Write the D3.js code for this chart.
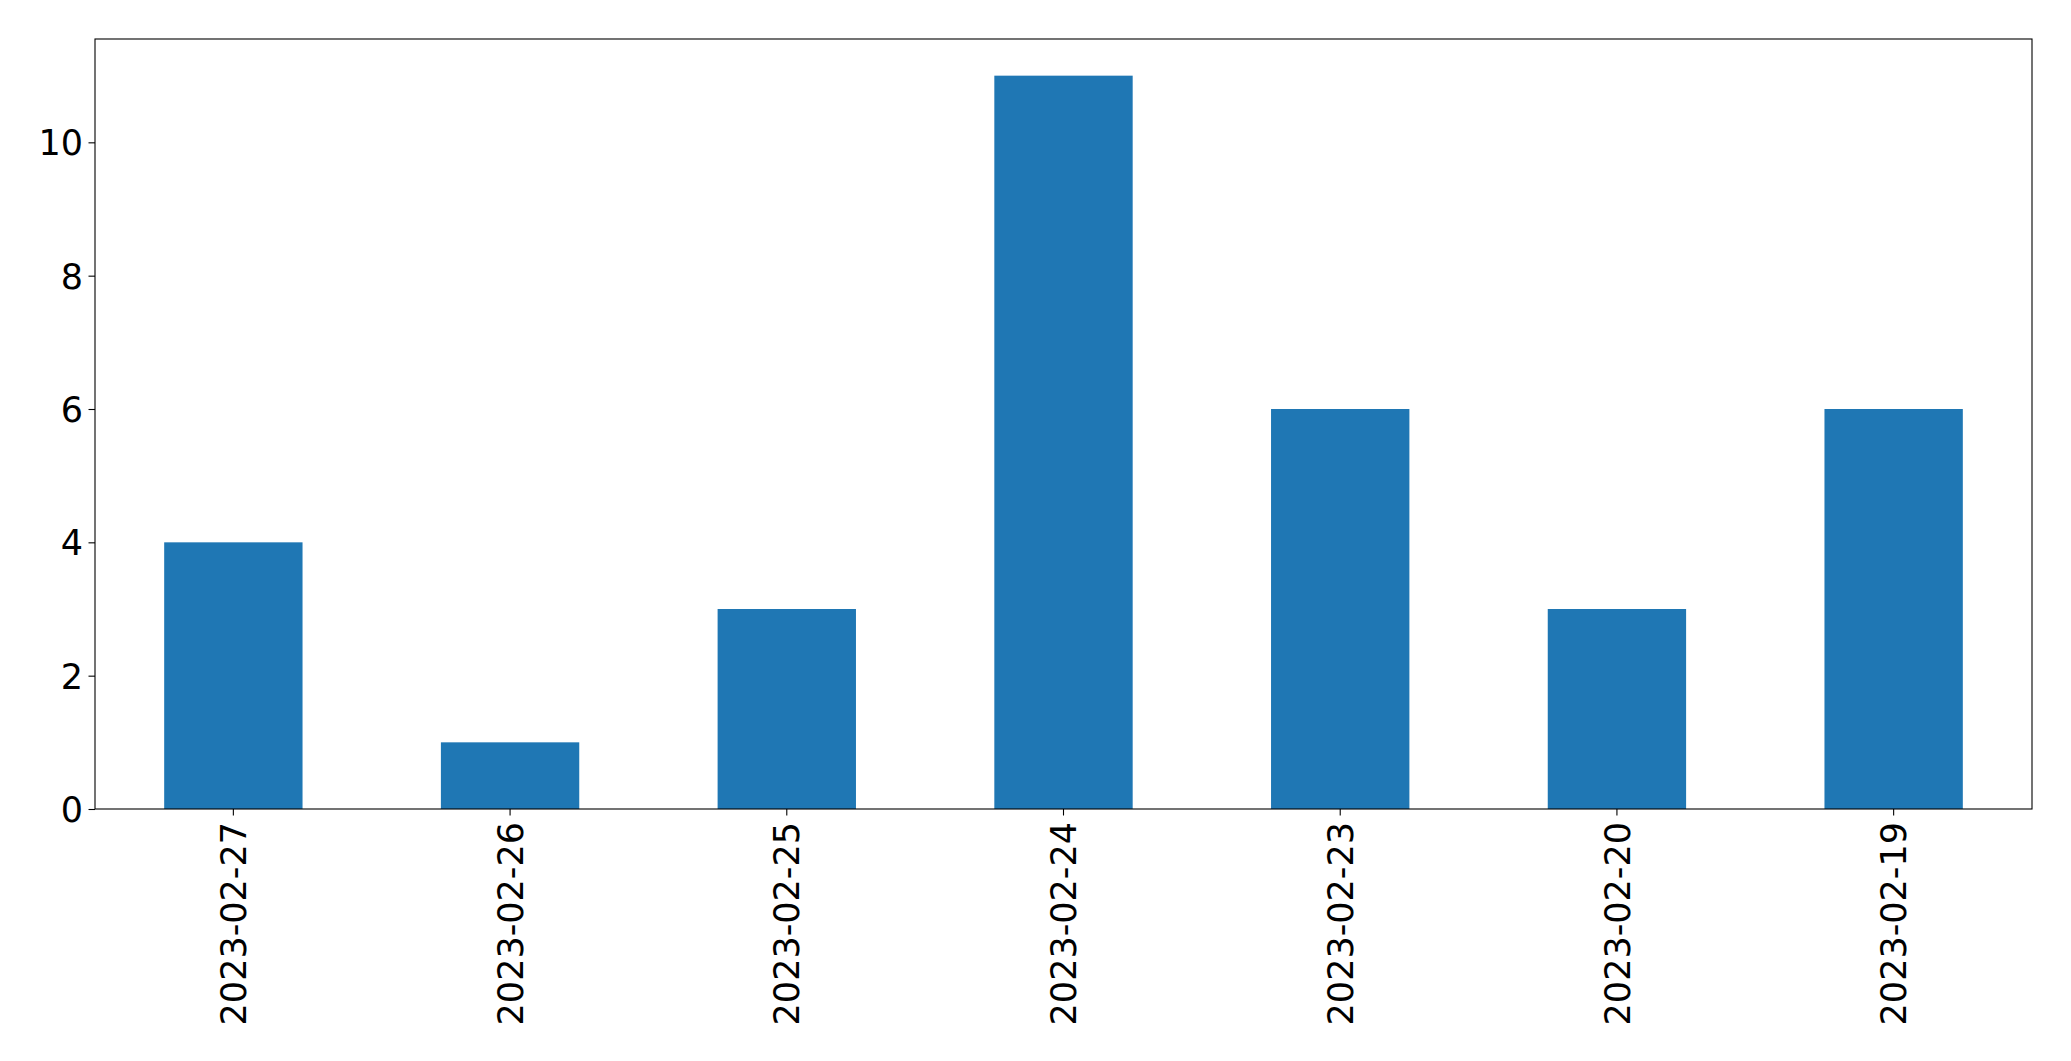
<!DOCTYPE html>
<html>
<head>
<meta charset="utf-8">
<script src="https://cdn.jsdelivr.net/npm/d3@7"></script>
<style>
  html, body { margin: 0; padding: 0; background: #fff; }
  svg { display: block; }
  text { font-family: "DejaVu Sans", sans-serif; fill: #000; }
</style>
</head>
<body>
<svg id="chart" width="2071" height="1061"></svg>
<script>
const categories = ["2023-02-27", "2023-02-26", "2023-02-25", "2023-02-24", "2023-02-23", "2023-02-20", "2023-02-19"];
const values = [4, 1, 3, 11, 6, 3, 6];
const yTicks = [0, 2, 4, 6, 8, 10];

const W = 2071, H = 1061;
const margin = { left: 95, right: W - 2032, top: 39, bottom: H - 809 };
const svg = d3.select("#chart");
const iw = W - margin.left - margin.right;
const ih = H - margin.top - margin.bottom;
const g = svg.append("g").attr("transform", `translate(${margin.left},${margin.top})`);

const x = d3.scaleBand().domain(categories).range([0, iw]).paddingInner(0.5).paddingOuter(0.25);
const yMax = d3.max(values) * 1.05;
const y = d3.scaleLinear().domain([0, yMax]).range([ih, 0]);

g.selectAll("rect.bar").data(values).join("rect")
  .attr("class", "bar")
  .attr("x", (d, i) => x(categories[i]))
  .attr("width", x.bandwidth())
  .attr("y", d => y(d))
  .attr("height", d => y(0) - y(d))
  .attr("fill", "#1f77b4");

const fs = 35;
const yAxis = d3.axisLeft(y).tickValues(yTicks).tickFormat(d3.format("d")).tickSize(6.5).tickPadding(5.5);
const ya = g.append("g").call(yAxis);
ya.select(".domain").remove();
ya.selectAll("line").attr("stroke", "#000").attr("stroke-width", 1.1);
ya.selectAll("text").style("font-size", fs + "px").attr("dy", "0.36em");

const xAxis = d3.axisBottom(x).tickSize(6.5).tickPadding(0);
const xa = g.append("g").attr("transform", `translate(0,${ih})`).call(xAxis);
xa.select(".domain").remove();
xa.selectAll("line").attr("stroke", "#000").attr("stroke-width", 1.1);
xa.selectAll("text")
  .style("font-size", fs + "px")
  .attr("text-anchor", "end")
  .attr("transform", "translate(0,13) rotate(-90)")
  .attr("x", 0).attr("y", 0)
  .attr("dy", "0.36em");

g.append("rect").attr("x", 0).attr("y", 0).attr("width", iw).attr("height", ih)
  .attr("fill", "none").attr("stroke", "#000").attr("stroke-width", 1.1);
</script>
</body>
</html>
